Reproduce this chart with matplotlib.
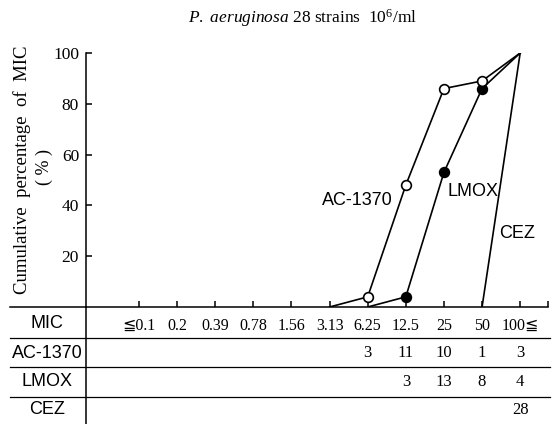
import matplotlib
matplotlib.use("Agg")
import matplotlib.pyplot as plt
from matplotlib.lines import Line2D
import matplotlib.transforms as mtransforms

# ---- data ----
categories = ['≦0.1', '0.2', '0.39', '0.78', '1.56', '3.13', '6.25', '12.5', '25', '50', '100≦']

ac1370_x = ['3.13', '6.25', '12.5', '25', '50', '100≦']
ac1370_pct = [0, 4, 48, 86, 89, 100]

lmox_x = ['6.25', '12.5', '25', '50', '100≦']
lmox_pct = [0, 4, 53, 86, 100]

cez_x = ['50', '100≦']
cez_pct = [0, 100]

row_names = ['AC-1370', 'LMOX', 'CEZ']
ac1370_counts = {'6.25': 3, '12.5': 11, '25': 10, '50': 1, '100≦': 3}
lmox_counts = {'12.5': 3, '25': 13, '50': 8, '100≦': 4}
cez_counts = {'100≦': 28}

yticks = [20, 40, 60, 80, 100]

# ---- style ----
plt.rcParams['font.family'] = ['Liberation Serif', 'DejaVu Serif', 'DejaVu Sans']
plt.rcParams['mathtext.fontset'] = 'custom'
plt.rcParams['mathtext.rm'] = 'Liberation Serif'
plt.rcParams['mathtext.it'] = 'Liberation Serif:italic'

W, H = 558, 424
fig = plt.figure(figsize=(W / 100, H / 100), dpi=100)

def fx(px):
    return px / W

def fy(py):
    return 1 - py / H

ax_left, ax_right, ax_top, ax_base = 86, 548, 53, 307
ax = fig.add_axes([fx(ax_left), fy(ax_base), fx(ax_right - ax_left), (ax_base - ax_top) / H])

idx = {c: i for i, c in enumerate(categories)}
xmin, xmax = -1.39, 10.73
ax.set_xlim(xmin, xmax)
ax.set_ylim(0, 100)

lw = 1.2
ax.plot([idx[c] for c in ac1370_x], ac1370_pct, color='black', lw=lw, zorder=2)
ax.plot([idx[c] for c in ac1370_x][1:-1], ac1370_pct[1:-1], ls='none', marker='o',
        ms=7, mfc='white', mec='black', mew=1.2, zorder=4, clip_on=False)
ax.plot([idx[c] for c in lmox_x], lmox_pct, color='black', lw=lw, zorder=2)
ax.plot([idx[c] for c in lmox_x][1:-1], lmox_pct[1:-1], ls='none', marker='o',
        ms=7, mfc='black', mec='black', mew=1.2, zorder=3, clip_on=False)
ax.plot([idx[c] for c in cez_x], cez_pct, color='black', lw=lw, zorder=2)

# line labels
lab_font = dict(family=['Liberation Sans', 'DejaVu Sans'], fontsize=13, ha='center', va='center')
ax.text(5.72, 42, 'AC-1370', **lab_font)
ax.text(8.77, 45.5, 'LMOX', **lab_font)
ax.text(9.92, 29, 'CEZ', **lab_font)

# axes style
for s in ['top', 'right']:
    ax.spines[s].set_visible(False)
ax.spines['left'].set_linewidth(1.1)
ax.spines['bottom'].set_linewidth(1.1)
ax.set_yticks(yticks)
ax.set_yticklabels([str(v) for v in yticks], fontsize=12.5)
ax.tick_params(axis='y', direction='in', length=4, width=1.1, pad=5)
ax.set_xticks(list(range(len(categories))) + [xmax])
ax.set_xticklabels(categories + [''], fontsize=11.5)
ax.tick_params(axis='x', direction='in', length=4, width=1.1, pad=8)

# y label
fig.text(fx(22), fy(170), 'Cumulative  percentage  of  MIC', rotation=90,
         ha='center', va='center', fontsize=13.5)
fig.text(fx(44), fy(167), '( % )', rotation=90, ha='center', va='center', fontsize=13)

# title
fig.text(fx(303), fy(18), r'$\it{P.}$ $\it{aeruginosa}$ 28 strains  10$^6$/ml',
         ha='center', va='center', fontsize=12.5)

# table frame lines
lc = dict(color='black', lw=1.1, transform=fig.transFigure)
fig.add_artist(Line2D([fx(10), fx(ax_left)], [fy(ax_base), fy(ax_base)], **lc))
fig.add_artist(Line2D([fx(ax_left), fx(ax_left)], [fy(ax_base), 0], **lc))
for py in [338, 367, 397]:
    fig.add_artist(Line2D([fx(10), fx(550)], [fy(py), fy(py)], color='black', lw=0.9,
                          transform=fig.transFigure))

# row labels
row_font = dict(family=['Liberation Sans', 'DejaVu Sans'], fontsize=13, ha='center', va='center')
fig.text(fx(47), fy(323), 'MIC', **row_font)
row_y = [353, 382, 410]
for name, py in zip(row_names, row_y):
    fig.text(fx(47), fy(py), name, **row_font)

# table values
trans = mtransforms.blended_transform_factory(ax.transData, fig.transFigure)
for counts, py in zip([ac1370_counts, lmox_counts, cez_counts], row_y):
    for c, v in counts.items():
        ax.text(idx[c], fy(py), str(v), transform=trans, ha='center', va='center',
                fontsize=12, clip_on=False)

fig.savefig('out.png', dpi=100)
